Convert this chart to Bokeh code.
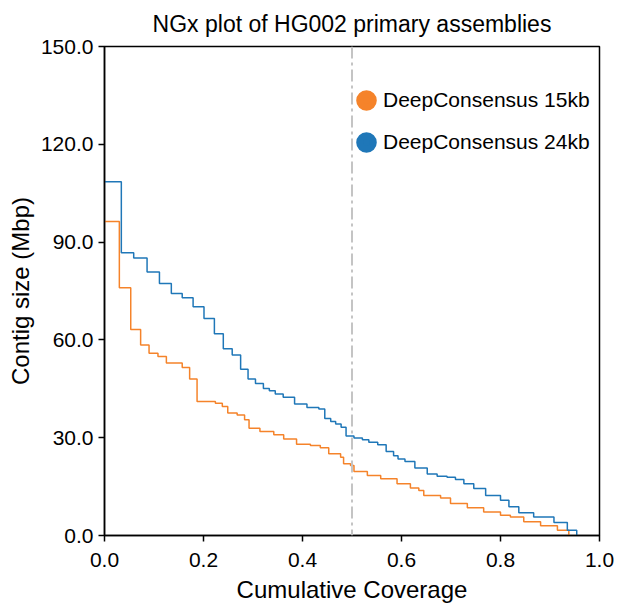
from bokeh.plotting import figure
from bokeh.models import (Span, FixedTicker, NumeralTickFormatter, Range1d,
                          Legend, LegendItem)
from bokeh.embed import file_html
from bokeh.resources import INLINE

# ---- data ----
cov_24kb = [0.0, 0.034, 0.059, 0.086, 0.111, 0.135, 0.157, 0.179, 0.201, 0.222,
            0.240, 0.258, 0.275, 0.290, 0.305, 0.321, 0.333, 0.345, 0.361, 0.384,
            0.409, 0.433, 0.445, 0.457, 0.467, 0.478, 0.488, 0.504, 0.521, 0.534,
            0.552, 0.569, 0.584, 0.593, 0.607, 0.627, 0.652, 0.672, 0.692, 0.709,
            0.726, 0.746, 0.770, 0.800, 0.817, 0.837, 0.867, 0.908, 0.935, 0.954]
size_24kb = [108.5, 86.7, 85.1, 80.8, 77.3, 74.2, 72.9, 70.2, 66.6, 61.9,
             57.3, 55.4, 51.0, 48.0, 46.6, 45.1, 44.4, 43.4, 42.4, 40.3,
             39.3, 38.8, 35.9, 35.0, 34.2, 33.2, 30.5, 29.9, 29.4, 28.6,
             27.8, 25.8, 24.5, 23.5, 22.7, 20.7, 18.9, 18.2, 17.9, 17.2,
             15.9, 14.4, 12.3, 10.8, 8.8, 7.0, 5.7, 4.0, 1.6, 0.0]

cov_15kb = [0.0, 0.030, 0.053, 0.073, 0.090, 0.108, 0.125, 0.157, 0.172, 0.187,
            0.224, 0.238, 0.249, 0.268, 0.283, 0.292, 0.314, 0.342, 0.362, 0.388,
            0.416, 0.436, 0.453, 0.477, 0.483, 0.497, 0.504, 0.531, 0.558, 0.591,
            0.618, 0.635, 0.645, 0.679, 0.699, 0.733, 0.766, 0.800, 0.820, 0.847,
            0.881, 0.915, 0.938]
size_15kb = [96.3, 76.0, 63.2, 58.4, 55.9, 54.9, 52.9, 51.5, 48.0, 41.1,
             40.6, 39.6, 37.6, 37.0, 35.5, 32.9, 31.9, 30.9, 29.6, 28.0,
             27.6, 26.9, 25.1, 24.0, 22.0, 21.5, 19.6, 18.4, 17.4, 15.9,
             14.6, 13.8, 12.3, 11.5, 9.8, 8.5, 7.2, 6.2, 5.7, 4.2,
             3.0, 1.6, 0.0]

x_ticks = [0.0, 0.2, 0.4, 0.6, 0.8, 1.0]
y_ticks = [0, 30, 60, 90, 120, 150]
half_coverage = 0.5

labels = ["DeepConsensus 15kb", "DeepConsensus 24kb"]
colors = ["#f5832a", "#1f77b8"]

FONT = "Liberation Sans"

p = figure(width=621, height=605, output_backend="svg", toolbar_location=None,
           x_range=Range1d(0, 1), y_range=Range1d(0, 150),
           title="NGx plot of HG002 primary assemblies",
           min_border_left=104, min_border_right=22, min_border_top=46,
           min_border_bottom=68)

p.title.text_font = FONT
p.title.text_font_size = "23px"
p.title.text_font_style = "normal"
p.title.align = "center"
p.title.vertical_align = "top"
p.title.text_color = "black"
p.title.standoff = 15

p.grid.visible = False
p.outline_line_color = "black"
p.outline_line_width = 1.5
p.background_fill_color = "white"
p.border_fill_color = "white"

for ax in (p.xaxis[0], p.yaxis[0]):
    ax.major_label_text_font = FONT
    ax.major_label_text_font_size = "21px"
    ax.major_label_text_color = "black"
    ax.axis_label_text_font = FONT
    ax.axis_label_text_font_size = "24px"
    ax.axis_label_text_font_style = "normal"
    ax.axis_label_text_color = "black"
    ax.axis_line_width = 1.5
    ax.axis_line_color = "black"
    ax.major_tick_line_width = 1.5
    ax.major_tick_line_color = "black"
    ax.major_tick_out = 6
    ax.major_tick_in = 0
    ax.minor_tick_line_color = None
    ax.formatter = NumeralTickFormatter(format="0.0")

p.xaxis.ticker = FixedTicker(ticks=x_ticks)
p.yaxis.ticker = FixedTicker(ticks=y_ticks)
p.xaxis.axis_label = "Cumulative Coverage"
p.yaxis.axis_label = "Contig size (Mbp)"
p.yaxis.axis_label_standoff = 4
p.xaxis.major_label_standoff = 11
p.xaxis.axis_label_standoff = 6

p.add_layout(Span(location=half_coverage, dimension="height",
                  line_color="#c4c4c4", line_width=2, line_dash="12 4 3 4"))

p.step(cov_15kb, size_15kb, mode="after", line_color=colors[0], line_width=1.5)
p.step(cov_24kb, size_24kb, mode="after", line_color=colors[1], line_width=1.5)

# legend-only renderers (a single NaN point is never drawn)
nan = float("nan")
r15 = p.scatter([nan], [nan], marker="circle", fill_color=colors[0],
                line_color=colors[0], line_width=7)
r24 = p.scatter([nan], [nan], marker="circle", fill_color=colors[1],
                line_color=colors[1], line_width=7)

legend = Legend(items=[LegendItem(label=labels[0], renderers=[r15]),
                       LegendItem(label=labels[1], renderers=[r24])],
                location=(245, 372), glyph_width=34, glyph_height=42,
                label_standoff=0, spacing=0, padding=0, margin=0,
                border_line_color=None, background_fill_alpha=0,
                label_text_font=FONT, label_text_font_size="21px",
                label_text_color="black")
p.add_layout(legend)

open("out.html", "w").write(file_html(p, INLINE))
